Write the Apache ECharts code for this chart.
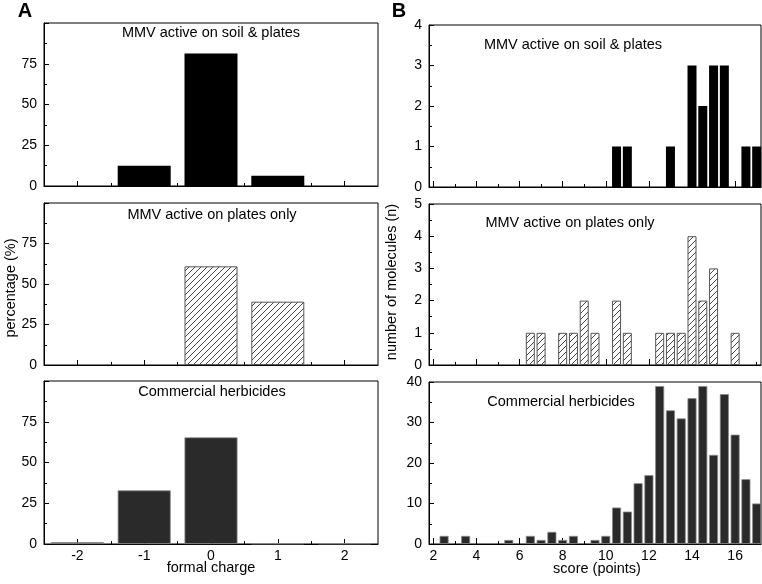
<!DOCTYPE html>
<html>
<head>
<meta charset="utf-8">
<script src="https://cdn.jsdelivr.net/npm/echarts@6/dist/echarts.min.js"></script>
<style>
html,body{margin:0;padding:0;background:#fff;}
#chart{width:762px;height:584px;}
</style>
</head>
<body>
<div id="chart"></div>
<script>
// ---- data ----
const chargeCats = [-2, -1, 0, 1, 2];
const soilPct = [0, 12.5, 81.25, 6.25, 0];
const platesPct = [0, 0, 60.9, 39.1, 0];
const herbPct = [1.1, 32.9, 65.4, 0.3, 0.3];

const soilScores = [10.5, 11, 13, 14, 14.5, 15, 15.5, 16.5, 17];
const soilCounts = [1, 1, 1, 3, 2, 3, 3, 1, 1];
const platesScores = [6.5, 7, 8, 8.5, 9, 9.5, 10.5, 11, 12.5, 13, 13.5, 14, 14.5, 15, 16];
const platesCounts = [1, 1, 1, 1, 2, 1, 2, 1, 1, 1, 1, 4, 2, 3, 1];
const herbScores = [2.5, 3.5, 5.5, 6.5, 7, 7.5, 8, 8.5, 9.5, 10, 10.5, 11, 11.5, 12, 12.5, 13, 13.5, 14, 14.5, 15, 15.5, 16, 16.5, 17];
const herbCounts = [2, 2, 1, 2, 1, 3, 1, 2, 1, 2, 9, 8, 15, 17, 39, 33, 31, 36, 39, 22, 37, 27, 16, 10];

const chargeLabels = [-2, -1, 0, 1, 2];
const chargeMinorTicks = [-1.5, -0.5, 0.5, 1.5];
const scoreLabels = [2, 4, 6, 8, 10, 12, 14, 16];
const scoreMinorTicks = [3, 5, 7, 9, 11, 13, 15, 17];

const panelTitles = ['MMV active on soil & plates', 'MMV active on plates only', 'Commercial herbicides'];

// ---- styles ----
const FONT = '"Liberation Sans", Arial, sans-serif';
function makeHatch() {
  const s = 6;
  const c = document.createElement('canvas');
  c.width = s; c.height = s;
  const ctx = c.getContext('2d');
  ctx.fillStyle = '#fff';
  ctx.fillRect(0, 0, s, s);
  ctx.strokeStyle = '#333';
  ctx.lineWidth = 0.9;
  ctx.beginPath();
  ctx.moveTo(0, s); ctx.lineTo(s, 0);
  ctx.moveTo(-2, 2); ctx.lineTo(2, -2);
  ctx.moveTo(s - 2, s + 2); ctx.lineTo(s + 2, s - 2);
  ctx.stroke();
  return c;
}
const hatch = { image: makeHatch(), repeat: 'repeat' };
const styles = [
  { color: '#000', borderColor: '#000', borderWidth: 0 },
  { color: hatch, borderColor: '#555', borderWidth: 1 },
  { color: '#2a2a2a', borderColor: '#888', borderWidth: 0.8 }
];

// ---- layout ----
const gridsA = [
  { left: 44, top: 23, width: 334, height: 163 },
  { left: 44, top: 203, width: 334, height: 162 },
  { left: 44, top: 381, width: 334, height: 163 }
];
const gridsB = [
  { left: 429, top: 25, width: 332, height: 162 },
  { left: 429, top: 204, width: 332, height: 161 },
  { left: 429, top: 382, width: 332, height: 162 }
];
const grids = gridsA.concat(gridsB).map(g => Object.assign({ show: true, borderColor: '#000', borderWidth: 1, backgroundColor: 'transparent' }, g));

const labelStyle = { color: '#000', fontSize: 14, fontFamily: FONT };
const xAxes = [], xMinorAxes = [], yAxes = [], series = [];

// Panel A
[soilPct, platesPct, herbPct].forEach((vals, i) => {
  xAxes.push({
    type: 'value', gridIndex: i, min: -2.5, max: 2.5, position: 'bottom',
    axisLine: { show: true, onZero: false, lineStyle: { color: '#000', width: 1 } },
    axisTick: { show: true, inside: true, length: 5, customValues: chargeLabels, lineStyle: { color: '#000' } },
    axisLabel: Object.assign({ show: i === 2, margin: 5, customValues: chargeLabels }, labelStyle),
    splitLine: { show: false }
  });
  xMinorAxes.push({
    type: 'value', gridIndex: i, min: -2.5, max: 2.5, position: 'bottom',
    axisLine: { show: false },
    axisTick: { show: true, inside: true, length: 3, customValues: chargeMinorTicks, lineStyle: { color: '#000' } },
    axisLabel: { show: false },
    splitLine: { show: false }
  });
  yAxes.push({
    type: 'value', gridIndex: i, min: 0, max: 100, interval: 25,
    axisLine: { show: true, onZero: false, lineStyle: { color: '#000', width: 1 } },
    axisTick: { show: true, inside: true, length: 5, lineStyle: { color: '#000' } },
    minorTick: { show: true, splitNumber: 2, length: 3, lineStyle: { color: '#000' } },
    axisLabel: Object.assign({ margin: 7, formatter: v => (v === 100 ? '' : String(v)) }, labelStyle),
    splitLine: { show: false }
  });
  series.push({
    type: 'bar', xAxisIndex: i, yAxisIndex: i, barWidth: 53,
    data: chargeCats.map((c, k) => [c, vals[k]]).filter(d => d[1] > 0),
    itemStyle: styles[i], silent: true, animation: false
  });
});

// Panel B
const bData = [[soilScores, soilCounts, 4, 1], [platesScores, platesCounts, 5, 1], [herbScores, herbCounts, 40, 10]];
bData.forEach((d, j) => {
  const gi = 3 + j;
  xAxes.push({
    type: 'value', gridIndex: gi, min: 1.8, max: 17.2, position: 'bottom',
    axisLine: { show: true, onZero: false, lineStyle: { color: '#000', width: 1 } },
    axisTick: { show: true, inside: true, length: 6, customValues: scoreLabels, lineStyle: { color: '#000' } },
    axisLabel: Object.assign({ show: j === 2, margin: 5, customValues: scoreLabels }, labelStyle),
    splitLine: { show: false }
  });
  xMinorAxes.push({
    type: 'value', gridIndex: gi, min: 1.8, max: 17.2, position: 'bottom',
    axisLine: { show: false },
    axisTick: { show: true, inside: true, length: 3, customValues: scoreMinorTicks, lineStyle: { color: '#000' } },
    axisLabel: { show: false },
    splitLine: { show: false }
  });
  yAxes.push({
    type: 'value', gridIndex: gi, min: 0, max: d[2], interval: d[3],
    axisLine: { show: true, onZero: false, lineStyle: { color: '#000', width: 1 } },
    axisTick: { show: true, inside: true, length: 5, lineStyle: { color: '#000' } },
    minorTick: { show: true, splitNumber: 2, length: 3, lineStyle: { color: '#000' } },
    axisLabel: Object.assign({ margin: 7 }, labelStyle),
    splitLine: { show: false }
  });
  series.push({
    type: 'bar', xAxisIndex: 3 + j, yAxisIndex: gi, barWidth: 9,
    data: d[0].map((x, k) => [x, d[1][k]]),
    itemStyle: styles[j], silent: true, animation: false
  });
});

const txt = (x, y, text, size, extra) => ({
  type: 'text', x: x, y: y, silent: true,
  style: Object.assign({ text: text, fill: '#000', font: size + 'px ' + FONT, textAlign: 'center', textVerticalAlign: 'middle' }, extra || {})
});

const graphics = [
  txt(25, 11, 'A', 20, { font: 'bold 20px ' + FONT }),
  txt(399, 11, 'B', 20, { font: 'bold 20px ' + FONT }),
  txt(211, 33, panelTitles[0], 14.5),
  txt(212, 215, panelTitles[1], 14.5),
  txt(212, 392, panelTitles[2], 14.5),
  txt(573, 45, panelTitles[0], 14.5),
  txt(570, 223, panelTitles[1], 14.5),
  txt(561, 402, panelTitles[2], 14.5),
  txt(211, 568, 'formal charge', 14.5),
  txt(597, 569, 'score (points)', 14.5),
  { type: 'text', x: 11, y: 288, rotation: Math.PI / 2, silent: true,
    style: { text: 'percentage (%)', fill: '#000', font: '14.5px ' + FONT, textAlign: 'center', textVerticalAlign: 'middle' } },
  { type: 'text', x: 392, y: 282, rotation: Math.PI / 2, silent: true,
    style: { text: 'number of molecules (n)', fill: '#000', font: '14.5px ' + FONT, textAlign: 'center', textVerticalAlign: 'middle' } }
];

const chart = echarts.init(document.getElementById('chart'), null, { renderer: 'canvas' });
chart.setOption({
  animation: false,
  backgroundColor: '#fff',
  grid: grids,
  xAxis: xAxes.concat(xMinorAxes),
  yAxis: yAxes,
  series: series,
  graphic: graphics
});
</script>
</body>
</html>
